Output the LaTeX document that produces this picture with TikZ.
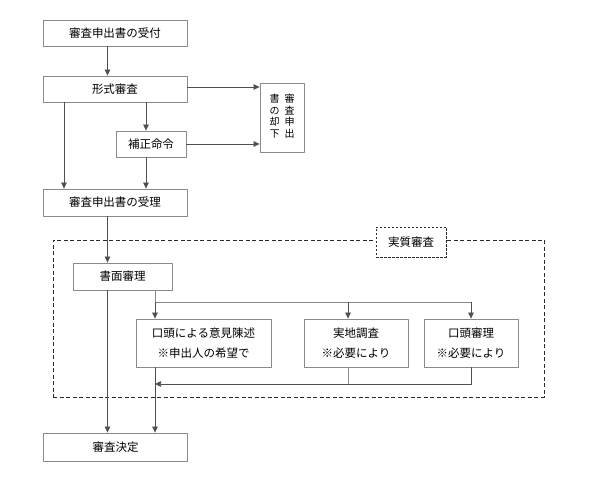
\documentclass[tikz,border=0pt]{standalone}
\usepackage{fontspec}
\setmainfont{Noto Sans CJK JP}
\usetikzlibrary{arrows.meta, calc, positioning}
\definecolor{fcline}{HTML}{8A8A8A}
\definecolor{fcarrow}{HTML}{505050}
\definecolor{fcdash}{HTML}{2A2A2A}
\tikzset{
  every picture/.style={line join=round},
  proc/.style={rectangle, draw=fcline, fill=white, line width=0.8pt,
    font=\fontsize{11.5}{20}\selectfont, inner sep=0pt, minimum height=26, align=center},
  wide/.style={proc, minimum width=144},
  twoline/.style={proc, minimum height=48},
  flow/.style={-{Triangle[length=6pt, width=5.5pt]}, draw=fcarrow, line width=0.7pt},
  link/.style={draw=fcline, line width=0.7pt},
  region/.style={rectangle, draw=fcdash, dash pattern=on 4pt off 2.5pt, line width=0.9pt,
    inner sep=0pt},
  regiontitle/.style={proc, draw=fcdash, dash pattern=on 2.5pt off 1.5pt, minimum width=70,
    minimum height=30},
}

\begin{document}
\begin{tikzpicture}[x=1pt, y=-1pt]
\useasboundingbox (0,0) rectangle (590,502);

% ---- 1: receipt and formal check
\node[wide] (uketsuke) at (115,33) {審査申出書の受付};
\node[wide] (keishiki) at (115,89) {形式審査};
\node[proc, minimum width=70] (hosei) at (151,144) {補正命令};
\node[proc, minimum width=44, minimum height=69] (kyakka) at (282,117.5)
  {\fontsize{10}{10.8}\selectfont
   \begin{tabular}{@{}c@{\hspace{5pt}}c@{}}書&審\\の&査\\却&申\\下&出\end{tabular}};
\node[wide, minimum height=27] (juri) at (115,202.5) {審査申出書の受理};

% line columns
\coordinate (colL) at (64,0);
\coordinate (colA) at (107.5,0);
\coordinate (colH) at (146,0);
\coordinate (colM) at (155,0);
\coordinate (colS) at (348,0);
\coordinate (split) at (0,302);
\coordinate (merge) at (0,384);

\draw[flow] (uketsuke.south -| colA) -- (keishiki.north -| colA);
\draw[flow] ([yshift=2]keishiki.east) -- ([yshift=2]keishiki.east -| kyakka.west);
\draw[flow] (hosei.east) -- (hosei.east -| kyakka.west);
\draw[flow] (keishiki.south -| colH) -- (hosei.north -| colH);
\draw[flow] (hosei.south -| colH) -- (juri.north -| colH);
\draw[flow] (keishiki.south -| colL) -- (juri.north -| colL);

% ---- 2: substantive examination
\node[region, minimum width=491, minimum height=157] (jisshitsu) at (298.5,318.5) {};
\node[regiontitle] (jtitle) at (411,242) {実質審査};

\node[proc, minimum width=99, minimum height=27] (shomen) at (122.5,276.5) {書面審理};
\node[twoline, minimum width=135] (iken) at (203.5,343) {口頭による意見陳述\\※申出人の希望で};
\node[twoline, minimum width=104] (chosa) at (356,343) {実地調査\\※必要により};
\node[twoline, minimum width=94] (koto) at (471,343) {口頭審理\\※必要により};

\draw[flow] (juri.south -| colA) -- (shomen.north -| colA);
\draw[link] (shomen.south -| colM) -- (split -| colM) -- (split -| koto.north);
\draw[flow] (split -| colM) -- (iken.north -| colM);
\draw[flow] (split -| colS) -- (chosa.north -| colS);
\draw[flow] (split -| koto.north) -- (koto.north);
\draw[link] (chosa.south -| colS) -- (merge -| colS);
\draw[flow] (koto.south) |- (merge -| colM);

% ---- 3: decision
\node[wide, minimum height=28] (kettei) at (115.5,447) {審査決定};
\draw[flow] (shomen.south -| colA) -- (kettei.north -| colA);
\draw[flow] (iken.south -| colM) -- (kettei.north -| colM);

\end{tikzpicture}
\end{document}
